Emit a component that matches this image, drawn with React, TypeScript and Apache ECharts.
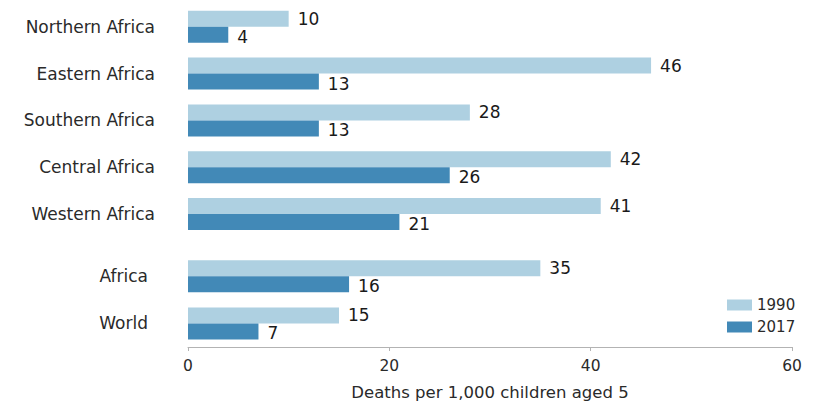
import React, { useEffect, useRef } from "react";
import * as echarts from "echarts";

// Under-five mortality, deaths per 1,000 children aged 5
const regionCategories = ["Northern Africa", "Eastern Africa", "Southern Africa", "Central Africa", "Western Africa"];
const region1990 = [10, 46, 28, 42, 41];
const region2017 = [4, 13, 13, 26, 21];

const totalCategories = ["Africa", "World"];
const total1990 = [35, 15];
const total2017 = [16, 7];

const xTicks = { min: 0, max: 60, interval: 20 };
const axisTitle = "Deaths per 1,000 children aged 5";

const COLOR_1990 = "#aed0e1";
const COLOR_2017 = "#4289b7";
const FONT = "DejaVu Sans";

export default function App() {
  const ref = useRef<HTMLDivElement>(null);

  useEffect(() => {
    if (!ref.current) return;
    const chart = echarts.init(ref.current, undefined, { renderer: "svg" });

    const valueLabel = (dy: number) => ({
      show: true,
      position: "right" as const,
      distance: 9,
      offset: [0, dy],
      fontFamily: FONT,
      fontSize: 17,
      color: "#1a1a1a",
    });

    const barSeries = (name: string, data: number[], color: string, idx: number, dy: number) => ({
      name,
      type: "bar" as const,
      xAxisIndex: idx,
      yAxisIndex: idx,
      data,
      barWidth: 16,
      barGap: "0%",
      itemStyle: { color },
      label: valueLabel(dy),
    });

    const catAxis = (idx: number, data: string[], margin: number) => ({
      type: "category" as const,
      gridIndex: idx,
      data,
      inverse: true,
      axisLine: { show: false },
      axisTick: { show: false },
      axisLabel: { fontFamily: FONT, fontSize: 17, color: "#2a2a2a", margin },
    });

    chart.setOption({
      animation: false,
      backgroundColor: "#ffffff",
      grid: [
        { left: 188, right: 24, top: 3.4, height: 234, outerBoundsMode: "none", containLabel: false },
        { left: 188, right: 24, top: 252.5, height: 94.5, outerBoundsMode: "none", containLabel: false },
      ],
      xAxis: [
        { type: "value", gridIndex: 0, ...xTicks, show: false, splitLine: { show: false } },
        {
          type: "value",
          gridIndex: 1,
          ...xTicks,
          splitLine: { show: false },
          axisLine: { show: true, lineStyle: { color: "#b3b3b3", width: 1 } },
          axisTick: { show: true, length: 4, lineStyle: { color: "#b3b3b3" } },
          axisLabel: { fontFamily: FONT, fontSize: 15.5, color: "#2a2a2a", margin: 11 },
          name: axisTitle,
          nameLocation: "middle",
          nameGap: 37,
          nameTextStyle: { fontFamily: FONT, fontSize: 16.5, color: "#2a2a2a" },
        },
      ],
      yAxis: [catAxis(0, regionCategories, 33), catAxis(1, totalCategories, 40)],
      legend: {
        data: ["1990", "2017"],
        orient: "vertical",
        left: 727,
        top: 297.5,
        padding: 0,
        itemWidth: 25,
        itemHeight: 11,
        itemGap: 7,
        icon: "rect",
        textStyle: { fontFamily: FONT, fontSize: 15, color: "#2a2a2a" },
      },
      series: [
        barSeries("1990", region1990, COLOR_1990, 0, 0),
        barSeries("2017", region2017, COLOR_2017, 0, 2),
        barSeries("1990", total1990, COLOR_1990, 1, 0),
        barSeries("2017", total2017, COLOR_2017, 1, 2),
      ],
    });

    return () => chart.dispose();
  }, []);

  return <div ref={ref} style={{ position: "absolute", left: 0, top: 0, width: 816, height: 401 }} />;
}
